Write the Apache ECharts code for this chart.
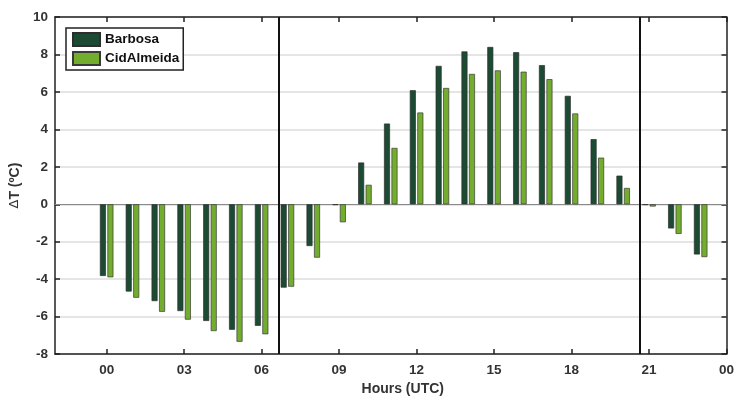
<!DOCTYPE html>
<html>
<head>
<meta charset="utf-8">
<script src="https://cdn.jsdelivr.net/npm/echarts@6/dist/echarts.min.js"></script>
<style>
  html, body { margin: 0; padding: 0; background: #fff; }
  #chart { width: 737px; height: 401px; }
</style>
</head>
<body>
<div id="chart"></div>
<script>
// Hour of day (UTC) for each pair of bars
const hours = [0, 1, 2, 3, 4, 5, 6, 7, 8, 9, 10, 11, 12, 13, 14, 15, 16, 17, 18, 19, 20, 21, 22, 23];
// Temperature difference ΔT (ºC) per station
const barbosa = [-3.83, -4.66, -5.17, -5.70, -6.23, -6.70, -6.49, -4.45, -2.23, -0.04, 2.23, 4.31,
                 6.09, 7.39, 8.16, 8.40, 8.12, 7.43, 5.79, 3.48, 1.53, -0.04, -1.29, -2.68];
const cidAlmeida = [-3.90, -4.99, -5.74, -6.16, -6.77, -7.34, -6.94, -4.40, -2.85, -0.96, 1.04, 3.01,
                    4.90, 6.21, 6.96, 7.15, 7.08, 6.68, 4.85, 2.49, 0.87, -0.12, -1.58, -2.82];
// Hour ticks and their labels
const tickHours = [0, 3, 6, 9, 12, 15, 18, 21, 24];
const tickLabels = ['00', '03', '06', '09', '12', '15', '18', '21', '00'];
// Period boundaries (hours)
const boundaries = [6.5, 20.5];

const seriesNames = ['Barbosa', 'CidAlmeida'];
const seriesColors = ['#1b4b33', '#73ad2d'];

const FONT = '"Liberation Sans", Arial, sans-serif';
const AXIS_COLOR = '#222';
const LABEL_COLOR = '#333';

const chart = echarts.init(document.getElementById('chart'), null, { renderer: 'canvas' });

const frameLine = { show: true, onZero: false, lineStyle: { color: AXIS_COLOR, width: 1.5 } };
const frameTick = { show: true, inside: true, length: 5, lineStyle: { color: AXIS_COLOR, width: 1.5 } };

const option = {
  backgroundColor: '#fff',
  animation: false,
  grid: { left: 55, right: 9, top: 17, bottom: 42 },
  legend: {
    orient: 'vertical',
    left: 66,
    top: 28,
    padding: [4, 4, 4, 6],
    itemGap: 4,
    itemWidth: 27,
    itemHeight: 13,
    icon: 'rect',
    borderColor: AXIS_COLOR,
    borderWidth: 1.5,
    backgroundColor: '#fff',
    textStyle: { fontFamily: FONT, fontWeight: 'bold', fontSize: 13.5, color: '#111' },
    data: seriesNames
  },
  xAxis: [
    {
      type: 'value',
      min: -2,
      max: 24,
      position: 'bottom',
      axisLine: frameLine,
      axisTick: Object.assign({}, frameTick, { customValues: tickHours }),
      axisLabel: {
        customValues: tickHours,
        formatter: v => tickLabels[tickHours.indexOf(v)],
        fontFamily: FONT, fontWeight: 'bold', fontSize: 13.5, color: LABEL_COLOR, margin: 9
      },
      splitLine: { show: false },
      name: 'Hours (UTC)',
      nameLocation: 'middle',
      nameGap: 26,
      nameTextStyle: { fontFamily: FONT, fontWeight: 'bold', fontSize: 14, color: LABEL_COLOR, padding: [0, 0, 0, 24] }
    },
    {
      type: 'value',
      min: -2,
      max: 24,
      position: 'top',
      axisLine: frameLine,
      axisTick: Object.assign({}, frameTick, { customValues: tickHours }),
      axisLabel: { show: false },
      splitLine: { show: false }
    }
  ],
  yAxis: [
    {
      type: 'value',
      min: -8,
      max: 10,
      interval: 2,
      position: 'left',
      axisLine: frameLine,
      axisTick: frameTick,
      axisLabel: { fontFamily: FONT, fontWeight: 'bold', fontSize: 13.5, color: LABEL_COLOR, margin: 7 },
      splitLine: { show: true, lineStyle: { color: '#dcdcdc', width: 1.5 } },
      name: '{d|Δ}{t|T (ºC)}',
      nameLocation: 'middle',
      nameGap: 23,
      nameTextStyle: {
        color: LABEL_COLOR,
        rich: {
          d: { fontFamily: '"DejaVu Sans", sans-serif', fontSize: 13, color: LABEL_COLOR },
          t: { fontFamily: FONT, fontWeight: 'bold', fontSize: 14, color: LABEL_COLOR }
        }
      }
    },
    {
      type: 'value',
      min: -8,
      max: 10,
      interval: 2,
      position: 'right',
      axisLine: frameLine,
      axisTick: frameTick,
      axisLabel: { show: false },
      splitLine: { show: false }
    }
  ],
  series: [
    {
      name: seriesNames[0],
      type: 'bar',
      xAxisIndex: 0,
      yAxisIndex: 0,
      barWidth: 6,
      barGap: '25%',
      itemStyle: { color: seriesColors[0], borderColor: '#2e2e2e', borderWidth: 0.7 },
      data: hours.map((h, i) => [h, barbosa[i]]),
      markLine: {
        silent: true,
        symbol: 'none',
        label: { show: false },
        z: 1,
        data: [
          { yAxis: 0, lineStyle: { color: '#8a8a8a', width: 1, type: 'solid' } }
        ]
      }
    },
    {
      name: seriesNames[1],
      type: 'bar',
      xAxisIndex: 0,
      yAxisIndex: 0,
      barWidth: 6,
      barGap: '25%',
      itemStyle: { color: seriesColors[1], borderColor: '#3a3a3a', borderWidth: 0.7 },
      data: hours.map((h, i) => [h, cidAlmeida[i]]),
      markLine: {
        silent: true,
        symbol: 'none',
        label: { show: false },
        data: boundaries.map(b => ({ xAxis: b, lineStyle: { color: '#111', width: 2, type: 'solid' } }))
      }
    }
  ]
};

chart.setOption(option);
</script>
</body>
</html>
